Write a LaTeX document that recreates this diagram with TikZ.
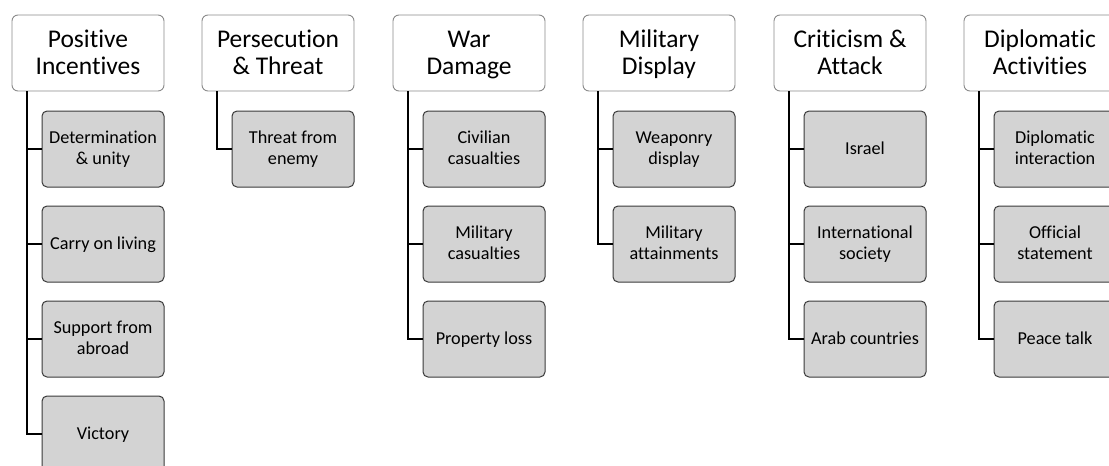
\documentclass[tikz,border=0pt]{standalone}
\usepackage{fontspec}
\setmainfont{Carlito}[RawFeature={-liga;-clig;-dlig}]
\definecolor{childfill}{HTML}{D3D3D3}
\definecolor{childline}{HTML}{3A3A3A}
\definecolor{headline}{HTML}{8A8A8A}
\newcommand\hstr{\vrule height 21pt depth 6pt width 0pt}
\newcommand\cstr{\vrule height 15pt depth 5pt width 0pt}
\tikzset{
  head/.style={draw=headline, line width=0.9pt, fill=white, rounded corners=6pt,
    minimum width=152pt, minimum height=76pt, inner sep=0pt, align=center,
    font=\fontsize{25.5}{27}\selectfont},
  child/.style={draw=childline, line width=1pt, fill=childfill, rounded corners=5pt,
    minimum width=122pt, minimum height=76pt, inner sep=0pt, align=center,
    font=\fontsize{18.2}{20.5}\selectfont},
  conn/.style={draw=black, line width=2.2pt}
}
\begin{document}
\begin{tikzpicture}[x=1pt,y=-1pt]
\useasboundingbox (0,0) rectangle (1109,466);
% column 1
\node[head] (h1) at (88,53) {\hstr Positive\\\hstr Incentives};
\coordinate (t1) at (27,91);
\node[child] (c11) at (103,149) {\cstr Determination\\\cstr\& unity};
\node[child] (c12) at (103,244) {\cstr Carry on living};
\node[child] (c13) at (103,339) {\cstr Support from\\\cstr abroad};
\node[child] (c14) at (103,434) {\cstr Victory};
\foreach \c in {c11,c12,c13,c14} \draw[conn] (t1) |- (\c.west);
% column 2
\node[head] (h2) at (278,53) {\hstr Persecution\\\hstr\& Threat};
\coordinate (t2) at (217,91);
\node[child] (c21) at (293,149) {\cstr Threat from\\\cstr enemy};
\draw[conn] (t2) |- (c21.west);
% column 3
\node[head] (h3) at (469,53) {\hstr War\\\hstr Damage};
\coordinate (t3) at (408,91);
\node[child] (c31) at (484,149) {\cstr Civilian\\\cstr casualties};
\node[child] (c32) at (484,244) {\cstr Military\\\cstr casualties};
\node[child] (c33) at (484,339) {\cstr Property loss};
\foreach \c in {c31,c32,c33} \draw[conn] (t3) |- (\c.west);
% column 4
\node[head] (h4) at (659,53) {\hstr Military\\\hstr Display};
\coordinate (t4) at (598,91);
\node[child] (c41) at (674,149) {\cstr Weaponry\\\cstr display};
\node[child] (c42) at (674,244) {\cstr Military\\\cstr attainments};
\foreach \c in {c41,c42} \draw[conn] (t4) |- (\c.west);
% column 5
\node[head] (h5) at (850,53) {\hstr Criticism \&\\\hstr Attack};
\coordinate (t5) at (789,91);
\node[child] (c51) at (865,149) {\cstr Israel};
\node[child] (c52) at (865,244) {\cstr International\\\cstr society};
\node[child] (c53) at (865,339) {\cstr Arab countries};
\foreach \c in {c51,c52,c53} \draw[conn] (t5) |- (\c.west);
% column 6
\node[head] (h6) at (1040,53) {\hstr Diplomatic\\\hstr Activities};
\coordinate (t6) at (979,91);
\node[child] (c61) at (1055,149) {\cstr Diplomatic\\\cstr interaction};
\node[child] (c62) at (1055,244) {\cstr Official\\\cstr statement};
\node[child] (c63) at (1055,339) {\cstr Peace talk};
\foreach \c in {c61,c62,c63} \draw[conn] (t6) |- (\c.west);
\end{tikzpicture}
\end{document}
